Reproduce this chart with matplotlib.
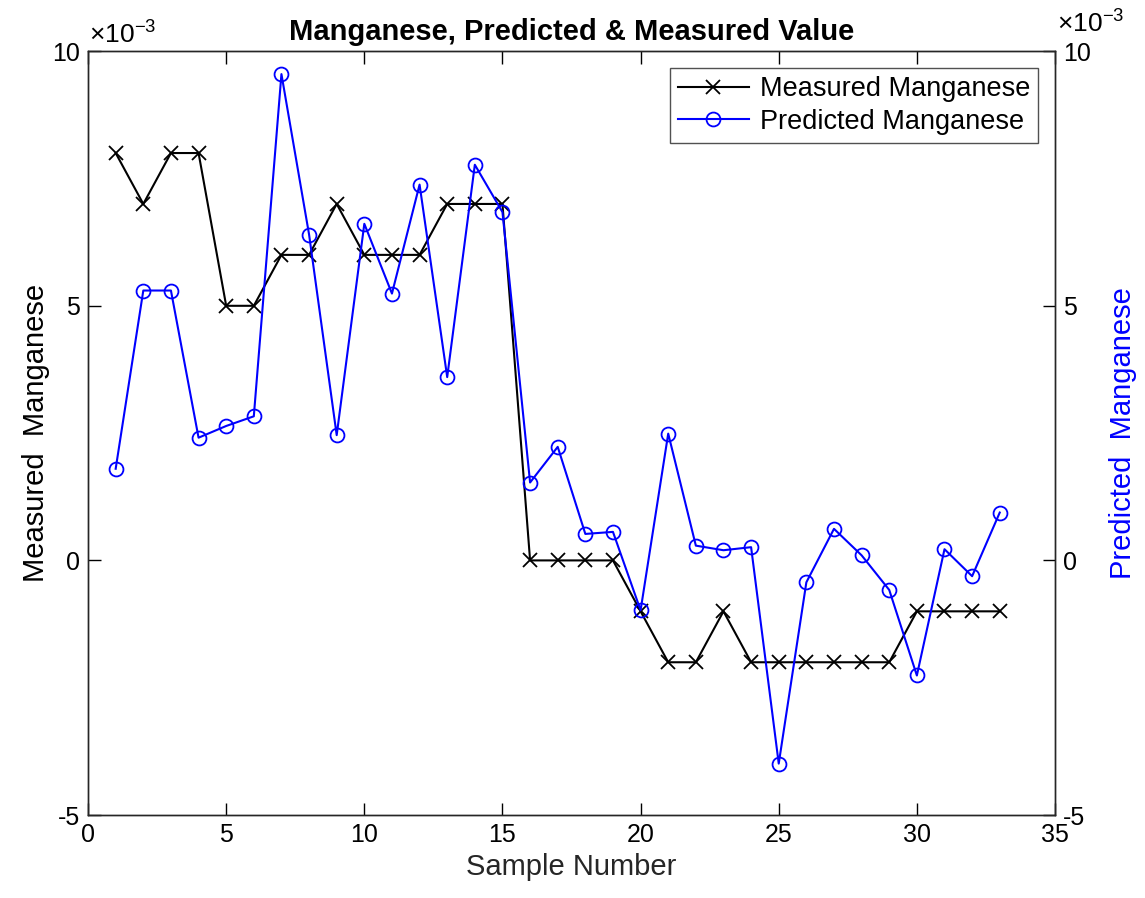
import numpy as np
import matplotlib.pyplot as plt
from matplotlib.ticker import FuncFormatter

plt.rcParams['font.family'] = ['Liberation Sans', 'DejaVu Sans']
plt.rcParams['axes.unicode_minus'] = False
plt.rcParams['mathtext.fontset'] = 'custom'
plt.rcParams['mathtext.rm'] = 'Liberation Sans'

# Numéros d'échantillon et valeurs de manganèse
sample = np.arange(1, 34)
measured = np.array([8, 7, 8, 8, 5, 5, 6, 6, 7, 6, 6, 6, 7, 7, 7,
                     0, 0, 0, 0, -1, -2, -2, -1, -2, -2, -2, -2, -2, -2,
                     -1, -1, -1, -1]) * 1e-3
predicted = np.array([1.80, 5.30, 5.30, 2.41, 2.64, 2.83, 9.55, 6.40, 2.46,
                      6.61, 5.24, 7.38, 3.60, 7.77, 6.84, 1.53, 2.23, 0.52,
                      0.56, -0.98, 2.49, 0.29, 0.20, 0.26, -3.99, -0.43,
                      0.62, 0.10, -0.58, -2.26, 0.22, -0.31, 0.94]) * 1e-3

fig = plt.figure(figsize=(11.45, 8.98), dpi=100)
ax = fig.add_axes([0.0769, 0.0924, 0.8445, 0.8506])
ax2 = ax.twinx()

l1, = ax.plot(sample, measured, color='black', marker='x', markersize=10,
              linewidth=1.5, markeredgewidth=1.3, label='Measured Manganese')
l2, = ax2.plot(sample, predicted, color='#0000ff', marker='o', markersize=10,
               markerfacecolor='none', linewidth=1.5, markeredgewidth=1.3,
               label='Predicted Manganese')

# étiquettes en unités de 1e-3, facteur affiché à part
milli = FuncFormatter(lambda v, pos: f'{v * 1e3:g}')
for a in (ax, ax2):
    a.set_xlim(0, 35)
    a.set_ylim(-5e-3, 10e-3)
    a.set_yticks([-5e-3, 0, 5e-3, 10e-3])
    a.yaxis.set_major_formatter(milli)
    a.tick_params(direction='in', length=9, width=1, labelsize=18, colors='black')
    for s in a.spines.values():
        s.set_color('#262626')
        s.set_linewidth(1)

ax.set_xticks(np.arange(0, 36, 5))
ax.tick_params(axis='x', top=True, pad=6)
ax.tick_params(axis='y', pad=6)
ax2.tick_params(axis='y', pad=6)

ax.set_xlabel('Sample Number', fontsize=21, color='#262626', labelpad=4)
ax.set_ylabel('Measured  Manganese', fontsize=21, labelpad=1)
ax2.set_ylabel('Predicted  Manganese', fontsize=21, color='#0000ff', labelpad=13)
ax.set_title('Manganese, Predicted & Measured Value', fontsize=21,
             fontweight='bold', pad=8)

fig.text(0.078, 1 - 43 / 898, r'$\times10^{-3}$', fontsize=19, ha='left', va='baseline')
fig.text(0.923, 1 - 32 / 898, r'$\times10^{-3}$', fontsize=19, ha='left', va='baseline')

leg = ax2.legend([l1, l2], [l1.get_label(), l2.get_label()], loc='upper right',
                 fontsize=19.5, frameon=True, fancybox=False, borderaxespad=0,
                 handlelength=2.6, handletextpad=0.4, borderpad=0.3,
                 labelspacing=0.25, bbox_to_anchor=(1038 / 1145, 1 - 68 / 898),
                 bbox_transform=fig.transFigure)
leg.get_frame().set_edgecolor('#262626')
leg.get_frame().set_linewidth(1)

fig.savefig('out.png', dpi=100)
